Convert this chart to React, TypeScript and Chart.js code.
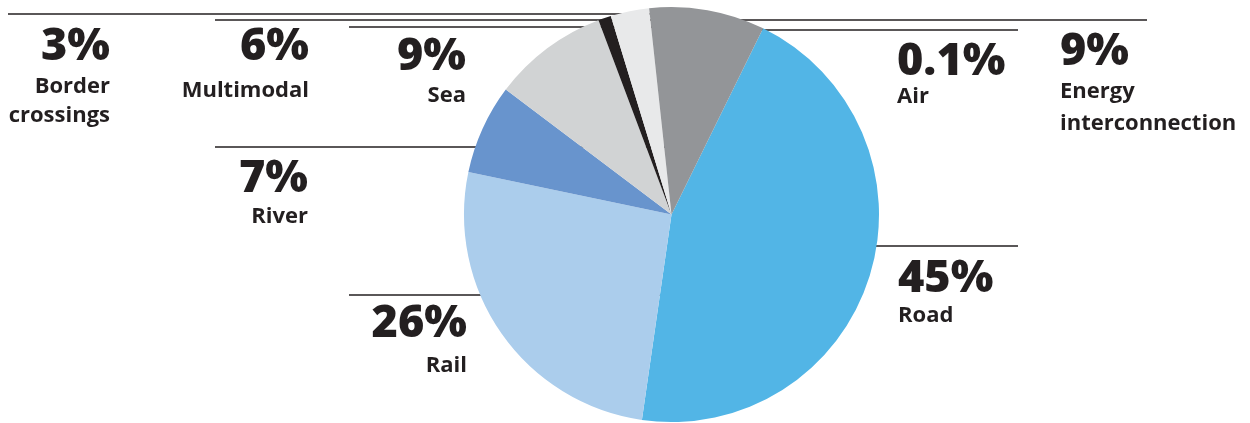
import React, { useEffect, useRef } from "react";
import { Chart, registerables } from "chart.js";

Chart.register(...registerables);

// Slice data (clockwise from the Road slice)
const sliceLabels = ["Road", "Rail", "River", "Sea", "Air", "Border crossings", "Energy interconnection"];
const sliceValues = [45, 26, 7, 9, 1, 3, 9];
const sliceColors = ["#52b5e6", "#abcdec", "#6894cd", "#d1d3d4", "#231f20", "#e8e9ea", "#939598"];

// Annotation labels
const annoPercents = ["3%", "6%", "9%", "0.1%", "9%", "7%", "26%", "45%"];
const annoNames = [["Border", "crossings"], ["Multimodal"], ["Sea"], ["Air"], ["Energy", "interconnection"], ["River"], ["Rail"], ["Road"]];

// Layout of the annotations (positions only)
const annoLayout = [
  { x: 110, align: "right", pct: 60, names: [93, 122], line: { y: 14, x1: 8, x2: 672 } },
  { x: 309, align: "right", pct: 60, names: [97], line: { y: 20, x1: 215, x2: 672 } },
  { x: 466, align: "right", pct: 70, names: [102], line: { y: 27, x1: 349, x2: 672 } },
  { x: 897, align: "left", pct: 75, names: [103], line: { y: 30, x1: 672, x2: 1018 } },
  { x: 1060, align: "left", pct: 65, names: [98, 130], line: { y: 20, x1: 672, x2: 1147 } },
  { x: 308, align: "right", pct: 192, names: [223], line: { y: 147, x1: 215, x2: 672 } },
  { x: 467, align: "right", pct: 337, names: [372], line: { y: 295, x1: 349, x2: 672 } },
  { x: 898, align: "left", pct: 292, names: [322], line: { y: 246, x1: 672, x2: 1018 } },
];

const annotationPlugin = {
  id: "annos",
  beforeDatasetsDraw(chart: any) {
    const ctx = chart.ctx;
    ctx.save();
    ctx.strokeStyle = "#231f20";
    ctx.lineWidth = 1.3;
    annoLayout.forEach((a) => {
      ctx.beginPath();
      ctx.moveTo(a.line.x1, a.line.y);
      ctx.lineTo(a.line.x2, a.line.y);
      ctx.stroke();
    });
    ctx.restore();
  },
  afterDraw(chart: any) {
    const ctx = chart.ctx;
    ctx.save();
    ctx.fillStyle = "#231f20";
    ctx.textBaseline = "alphabetic";
    annoLayout.forEach((a, i) => {
      ctx.textAlign = a.align;
      ctx.font = "800 45px 'Open Sans'";
      ctx.fillText(annoPercents[i], a.x, a.pct);
      ctx.font = "700 22px 'Open Sans'";
      annoNames[i].forEach((n, j) => ctx.fillText(n, a.x, a.names[j]));
    });
    ctx.restore();
  },
};

export default function App() {
  const ref = useRef<HTMLCanvasElement>(null);
  useEffect(() => {
    if (!ref.current) return;
    const chart = new Chart(ref.current, {
      type: "pie",
      data: {
        labels: sliceLabels,
        datasets: [
          {
            data: sliceValues,
            backgroundColor: sliceColors,
            borderWidth: 0,
          },
        ],
      },
      options: {
        responsive: false,
        animation: false,
        rotation: 26.2,
        layout: { padding: { left: 464, right: 371, top: 7, bottom: 1 } },
        plugins: { legend: { display: false }, tooltip: { enabled: false } },
      },
      plugins: [annotationPlugin],
    });
    return () => chart.destroy();
  }, []);
  return (
    <div style={{ position: "fixed", left: 0, top: 0, width: 1250, height: 423, background: "#fff" }}>
      <canvas ref={ref} width={1250} height={423} />
    </div>
  );
}
